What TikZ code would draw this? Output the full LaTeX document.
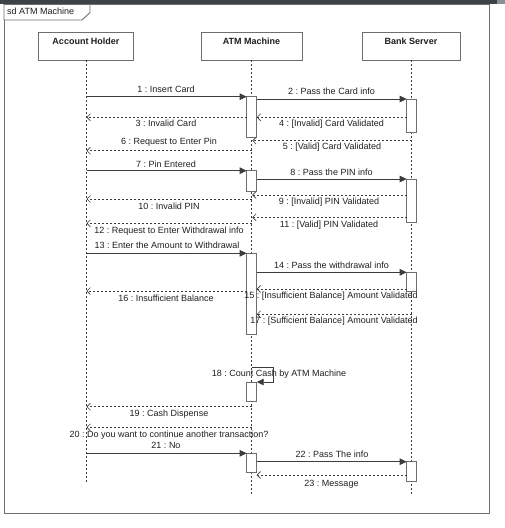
\documentclass[tikz,border=0pt]{standalone}
\usepackage{fontspec}
\setmainfont{Liberation Sans}
\usetikzlibrary{arrows.meta}
\definecolor{boxgray}{HTML}{6E6E6E}
\definecolor{msgcol}{HTML}{3C3C3C}
\definecolor{barcol}{HTML}{3E4347}
\definecolor{barlight}{HTML}{8C9196}
\definecolor{txtcol}{HTML}{1E1E1E}
\frenchspacing
\begin{document}
\frenchspacing
\begin{tikzpicture}[x=1bp,y=-1bp,
  font=\fontsize{9bp}{10bp}\selectfont,
  head/.style={draw=boxgray, fill=white, line width=0.8bp, inner xsep=0, inner ysep=0,
    text height=12.3bp, text depth=15.7bp, text=txtcol, font=\fontsize{9bp}{10bp}\selectfont\bfseries},
  act/.style={draw=boxgray, fill=white, line width=0.8bp, minimum width=10bp, inner sep=0},
  lifeline/.style={draw=msgcol, dash pattern=on 2bp off 2bp, line width=0.6bp},
  sync/.style={draw=msgcol, line width=0.8bp, -{Triangle[length=7bp,width=6.5bp]}},
  reply/.style={draw=msgcol, line width=0.6bp, dash pattern=on 2bp off 2bp,
    -{Straight Barb[length=3.5bp,width=7bp,line width=0.6bp]}},
  lbl/.style={inner sep=0, text height=6.5bp, text depth=1.8bp, text=txtcol},
  framebox/.style={draw=boxgray, line width=0.9bp}
]
\useasboundingbox (0,0) rectangle (505,528);
% top bar
\fill[barcol] (0,0) rectangle (497,4.5);
\fill[barlight] (497,0) rectangle (505,4.5);
% frame
\draw[framebox] (4,4.5) rectangle (489,513);
\draw[framebox, fill=white] (4,4.5) -- (90,4.5) -- (90,12.5) -- (82,20) -- (4,20) -- cycle;
\node[lbl, anchor=west] (sd) at (7,12.5) {sd ATM Machine};

% lifeline heads
\node[head, minimum width=95.5bp] (ah) at (86,46) {Account Holder};
\node[head, minimum width=101bp] (atm) at (251.5,46) {ATM Machine};
\node[head, minimum width=98bp] (bs) at (411,46) {Bank Server};

% lifeline ends
\coordinate (ahEnd) at (86.5,483);
\coordinate (atmEnd) at (251.7,495);
\coordinate (bsEnd) at (411.7,495);
\draw[lifeline] (ah.south -| ahEnd) -- (ahEnd);
\draw[lifeline] (atm.south -| atmEnd) -- (atmEnd);
\draw[lifeline] (bs.south -| bsEnd) -- (bsEnd);

% activations
\node[act, minimum height=40.3bp] (a1) at (251.7,116.85) {};
\node[act, minimum height=33bp]   (b1) at (411.7,115.5) {};
\node[act, minimum height=20.3bp] (a2) at (251.7,180.85) {};
\node[act, minimum height=43.3bp] (b2) at (411.7,200.65) {};
\node[act, minimum height=80.7bp] (a3) at (251.7,293.65) {};
\node[act, minimum height=19.4bp] (b3) at (411.7,282) {};
\node[act, minimum height=19.5bp] (a4) at (251.7,391.75) {};
\node[act, minimum height=19.4bp] (a5) at (251.7,463) {};
\node[act, minimum height=20bp]   (b4) at (411.7,471.7) {};

% message end points
\coordinate (m1s) at (86.5,96.7);   \coordinate (m1e) at (246.7,96.7);
\coordinate (m2s) at (256.7,99);    \coordinate (m2e) at (406.7,99);
\coordinate (m3s) at (246.7,117.3); \coordinate (m3e) at (86.5,117.3);
\coordinate (m4s) at (406.7,117.3); \coordinate (m4e) at (256.7,117.3);
\coordinate (m5s) at (411.7,140.7); \coordinate (m5e) at (252.2,140.7);
\coordinate (m6s) at (251.7,150.7); \coordinate (m6e) at (86.5,150.7);
\coordinate (m7s) at (86.5,170.7);  \coordinate (m7e) at (246.7,170.7);
\coordinate (m8s) at (256.7,179);   \coordinate (m8e) at (406.7,179);
\coordinate (m9s) at (406.7,195);   \coordinate (m9e) at (252.2,195);
\coordinate (m10s) at (251.7,199);  \coordinate (m10e) at (86.5,199);
\coordinate (m11s) at (406.7,217.3);\coordinate (m11e) at (252.2,217.3);
\coordinate (m12s) at (251.7,223.3);\coordinate (m12e) at (86.5,223.3);
\coordinate (m13s) at (86.5,253.3); \coordinate (m13e) at (246.7,253.3);
\coordinate (m14s) at (256.7,272.3);\coordinate (m14e) at (406.7,272.3);
\coordinate (m15s) at (406.7,289);  \coordinate (m15e) at (256.7,289);
\coordinate (m16s) at (246.7,291);  \coordinate (m16e) at (86.5,291);
\coordinate (m17s) at (411.7,314.3);\coordinate (m17e) at (256.7,314.3);
\coordinate (m18s) at (251.7,367.3);\coordinate (m18e) at (256.7,382);
\coordinate (m19s) at (251.7,406.7);\coordinate (m19e) at (86.5,406.7);
\coordinate (m20s) at (251.7,427.3);\coordinate (m20e) at (86.5,427.3);
\coordinate (m21s) at (86.5,453.3); \coordinate (m21e) at (246.7,453.3);
\coordinate (m22s) at (256.7,461.7);\coordinate (m22e) at (406.7,461.7);
\coordinate (m23s) at (406.7,475);  \coordinate (m23e) at (256.7,475);

% messages
\draw[sync]  (m1s) -- (m1e);
\draw[sync]  (m2s) -- (m2e);
\draw[reply] (m3s) -- (m3e);
\draw[reply] (m4s) -- (m4e);
\draw[reply] (m5s) -- (m5e);
\draw[reply] (m6s) -- (m6e);
\draw[sync]  (m7s) -- (m7e);
\draw[sync]  (m8s) -- (m8e);
\draw[reply] (m9s) -- (m9e);
\draw[reply] (m10s) -- (m10e);
\draw[reply] (m11s) -- (m11e);
\draw[reply] (m12s) -- (m12e);
\draw[sync]  (m13s) -- (m13e);
\draw[sync]  (m14s) -- (m14e);
\draw[reply] (m15s) -- (m15e);
\draw[reply] (m16s) -- (m16e);
\draw[reply] (m17s) -- (m17e);
\draw[sync]  (m18s) -- ++(21.6,0) |- (m18e);
\draw[reply] (m19s) -- (m19e);
\draw[reply] (m20s) -- (m20e);
\draw[sync]  (m21s) -- (m21e);
\draw[sync]  (m22s) -- (m22e);
\draw[reply] (m23s) -- (m23e);

% labels
\node[lbl] (l1)  at (166,90.5)  {1 : Insert Card};
\node[lbl] (l2)  at (331.5,92.2) {2 : Pass the Card info};
\node[lbl] (l3)  at (166,123.8) {3 : Invalid Card};
\node[lbl] (l4)  at (331.5,123.8) {4 : [Invalid] Card Validated};
\node[lbl] (l5)  at (332,147.2) {5 : [Valid] Card Validated};
\node[lbl] (l6)  at (169,142.5) {6 : Request to Enter Pin};
\node[lbl] (l7)  at (166,165.2) {7 : Pin Entered};
\node[lbl] (l8)  at (331.5,173.2) {8 : Pass the PIN info};
\node[lbl] (l9)  at (329,202.2) {9 : [Invalid] PIN Validated};
\node[lbl] (l10) at (169,207.2) {10 : Invalid PIN};
\node[lbl] (l11) at (329,225.5) {11 : [Valid] PIN Validated};
\node[lbl] (l12) at (169,231.5) {12 : Request to Enter Withdrawal info};
\node[lbl] (l13) at (167,246.5) {13 : Enter the Amount to Withdrawal};
\node[lbl] (l14) at (331.5,265.8) {14 : Pass the withdrawal info};
\node[lbl] (l15) at (331,296.2) {15 : [Insufficient Balance] Amount Validated};
\node[lbl] (l16) at (166,299.5) {16 : Insufficient Balance};
\node[lbl] (l17) at (334,321.5) {17 : [Sufficient Balance] Amount Validated};
\node[lbl] (l18) at (279,373.8) {18 : Count Cash by ATM Machine};
\node[lbl] (l19) at (169,414.5) {19 : Cash Dispense};
\node[lbl] (l20) at (169,435.5) {20 : Do you want to continue another transaction?};
\node[lbl] (l21) at (166,446.5) {21 : No};
\node[lbl] (l22) at (332,455.5) {22 : Pass The info};
\node[lbl] (l23) at (331.5,483.8) {23 : Message};
\end{tikzpicture}
\end{document}
